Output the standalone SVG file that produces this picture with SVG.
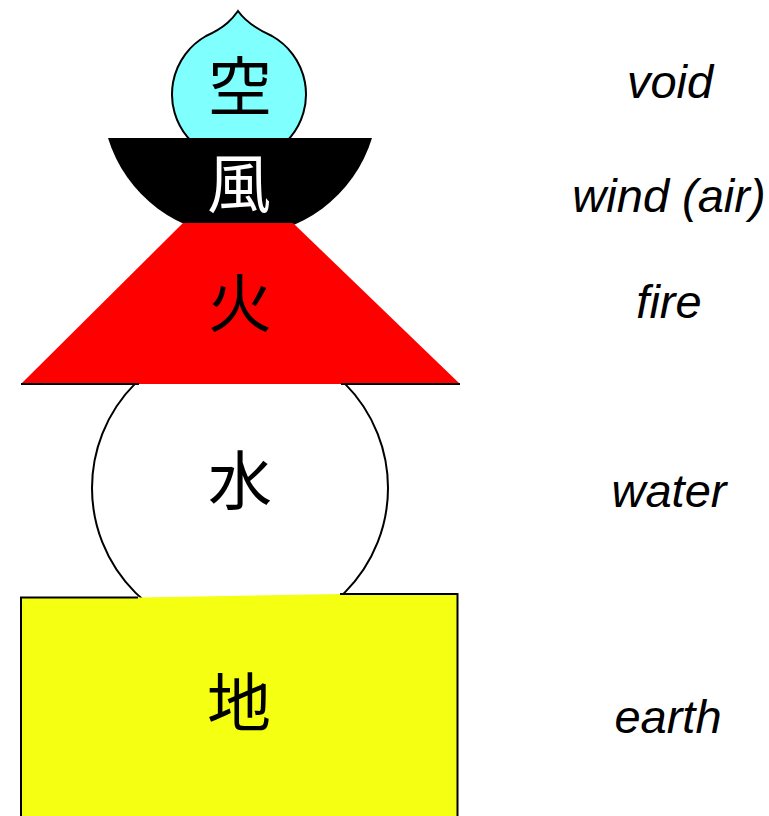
<svg xmlns="http://www.w3.org/2000/svg" width="769" height="816" viewBox="0 0 769 816">
<style>
.cjk{font-family:"Noto Sans CJK JP","Noto Sans CJK SC",sans-serif;font-size:64px;text-anchor:middle}
.lbl{font-family:"Liberation Sans",Arial,sans-serif;font-style:italic;font-size:47px;text-anchor:middle;fill:#000}
.ol{fill:none;stroke:#000;stroke-width:2}
</style>
<rect width="769" height="816" fill="#fff"/>
<g id="water">
<circle cx="240" cy="488" r="148" fill="#fff" stroke="#000" stroke-width="2"/>
</g>
<g id="earth">
<polygon points="21,597.5 138,597.5 340,594 457.5,594 457.5,820 21,820" fill="#f4ff12"/>
<path class="ol" d="M138,597.5 L21,597.5 L21,820 M457.5,820 L457.5,594 L340,594"/>
<text class="cjk" x="239" y="726" fill="#000">地</text>
</g>
<g id="void">
<path d="M238,11 C233,18 226,27 206,36 A67,67 0 1 0 272,36 C252,27 243,18 238,11 Z" fill="#80ffff" stroke="#000" stroke-width="2"/>
<text class="cjk" x="240" y="110" fill="#000">空</text>
</g>
<g id="wind">
<path d="M108,138 L372,138 A138,138 0 0 1 108,138 Z" fill="#000"/>
<text class="cjk" x="239" y="207" fill="#fff">風</text>
</g>
<g id="fire">
<polygon points="183,223 293,223 460,384 21,384" fill="#f00"/>
<path class="ol" d="M21,384 L139,384 M341,384 L460,384"/>
<text class="cjk" x="240" y="327" fill="#000">火</text>
</g>
<g id="waterlabel">
<text class="cjk" x="240" y="504" fill="#000">水</text>
</g>
<g id="labels">
<text class="lbl" x="670" y="98">void</text>
<text class="lbl" x="669" y="212">wind (air)</text>
<text class="lbl" x="669" y="318">fire</text>
<text class="lbl" x="669" y="507">water</text>
<text class="lbl" x="668" y="733">earth</text>
</g>
</svg>
